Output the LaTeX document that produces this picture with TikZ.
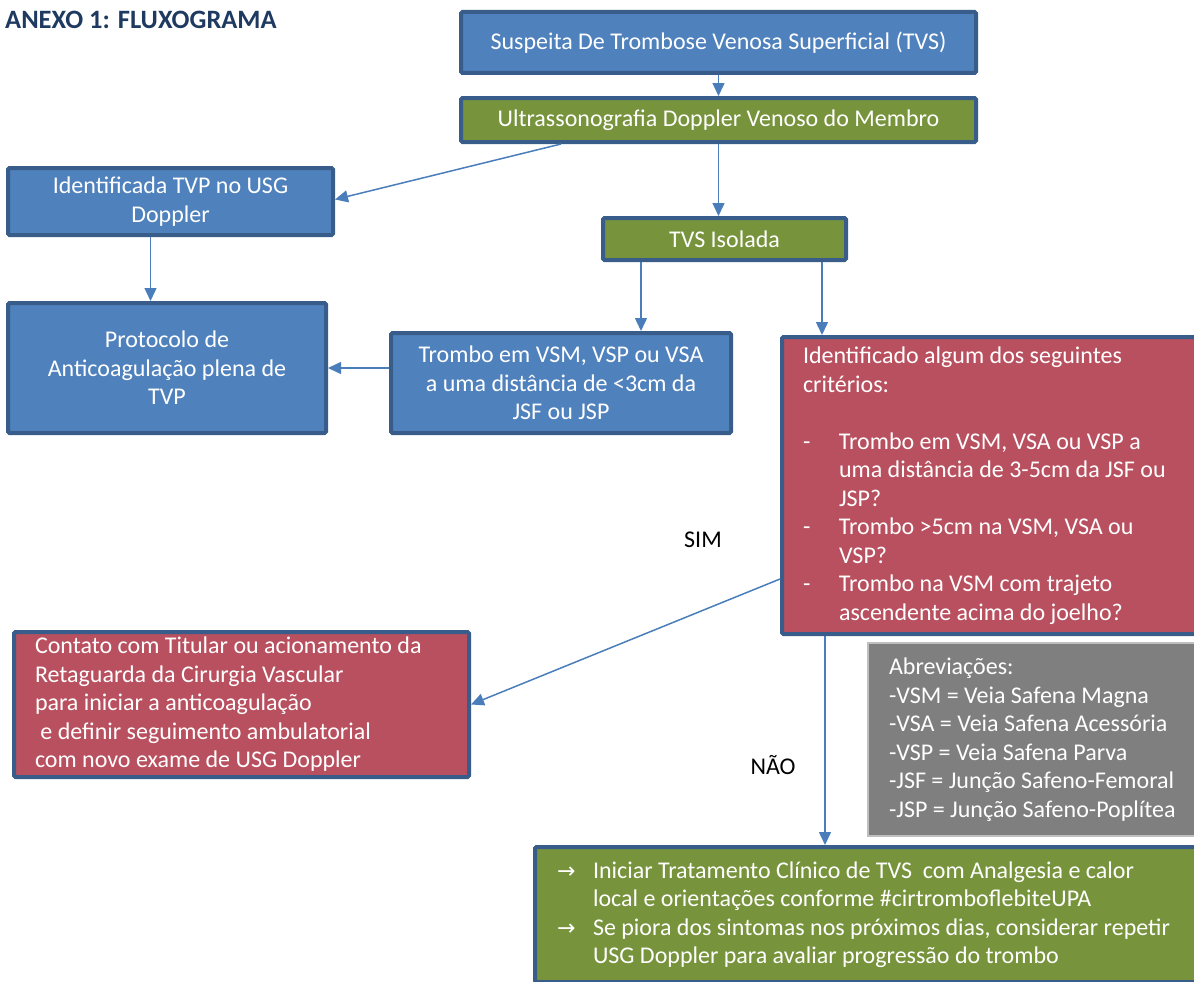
\documentclass[tikz,border=0pt]{standalone}
\usepackage{fontspec}
\setmainfont{Carlito}
\newfontfamily\symfont{DejaVu Sans}
\usepackage{tikz}
\usetikzlibrary{positioning, arrows.meta}

\definecolor{boxblue}{HTML}{4F81BD}
\definecolor{boxgreen}{HTML}{77933C}
\definecolor{boxred}{HTML}{B9505F}
\definecolor{boxgray}{HTML}{7F7F7F}
\definecolor{edgegray}{HTML}{BFBFBF}
\definecolor{boxedge}{HTML}{385D8A}
\definecolor{arrowblue}{HTML}{4A7EBB}
\definecolor{titleblue}{HTML}{1F3A60}

\newcommand{\itm}[2]{\makebox[36pt][l]{#1}#2}
\newcommand{\cnt}[1]{\hspace*{36pt}#1}
\newcommand{\seta}{{\symfont\fontsize{22}{20}\selectfont →}}

\tikzset{
    flowbox/.style={draw=boxedge, line width=4pt, rounded corners=1.5pt, text=white,
        font=\fontsize{24}{28.5}\selectfont, align=center, inner sep=0pt},
    leftbox/.style={flowbox, anchor=north west, align=flush left, inner ysep=0pt},
    arr/.style={draw=arrowblue, line width=1.5pt, -{Triangle[length=13pt,width=12pt]}},
    lbl/.style={font=\fontsize{24}{28.5}\selectfont}
}

\begin{document}
\begin{tikzpicture}[x=1pt,y=-1pt]
    \useasboundingbox (0,0) rectangle (1194,982);
    \node[anchor=west, text=titleblue, font=\bfseries\fontsize{26.5}{28}\selectfont, inner sep=0pt] (title) at (5,20) {ANEXO 1: FLUXOGRAMA};

    % coluna central
    \node[flowbox, fill=boxblue, minimum width=515pt, minimum height=61pt] (susp) at (718.5,42.5) {Suspeita De Trombose Venosa Superficial (TVS)};
    \node[flowbox, fill=boxgreen, minimum width=515pt, minimum height=44pt] (usg) at (718.5,120) {Ultrassonografia Doppler Venoso do Membro};
    \node[flowbox, fill=boxblue, minimum width=325pt, minimum height=67pt] (tvp) at (170.5,201.5) {Identificada TVP no USG\\Doppler};
    \node[flowbox, fill=boxgreen, minimum width=243pt, minimum height=42pt] (isol) at (724.5,239) {TVS Isolada};
    \node[flowbox, fill=boxblue, minimum width=318pt, minimum height=130pt] (prot) at (167,368) {Protocolo de\\Anticoagulação plena de\\TVP};
    \node[flowbox, fill=boxblue, minimum width=340pt, minimum height=100pt] (tromb) at (561,383) {Trombo em VSM, VSP ou VSA\\a uma distância de <3cm da\\JSF ou JSP};

    % criterios
    \node[leftbox, fill=boxred, inner xsep=21pt, text width=376pt, minimum height=297pt] (crit) at (780,335) {Identificado algum dos seguintes\\critérios:\\[28.5pt]
        \itm{-}{Trombo em VSM, VSA ou VSP a}\\\cnt{uma distância de 3-5cm da JSF ou}\\\cnt{JSP?}\\
        \itm{-}{Trombo >5cm na VSM, VSA ou}\\\cnt{VSP?}\\
        \itm{-}{Trombo na VSM com trajeto}\\\cnt{ascendente acima do joelho?}};
    \node[leftbox, fill=boxred, inner xsep=21pt, text width=413pt, minimum height=145pt] (cont) at (12,630) {Contato com Titular ou acionamento da\\Retaguarda da Cirurgia Vascular\\para iniciar a anticoagulação\\\ e definir seguimento ambulatorial\\com novo exame de USG Doppler};
    \node[leftbox, fill=boxgray, draw=edgegray, line width=2pt, rounded corners=0pt, inner xsep=21pt, text width=289pt, minimum height=193pt] (abrev) at (867,642) {Abreviações:\\-VSM = Veia Safena Magna\\-VSA = Veia Safena Acessória\\-VSP = Veia Safena Parva\\-JSF = Junção Safeno-Femoral\\-JSP = Junção Safeno-Poplítea};
    \node[leftbox, fill=boxgreen, inner xsep=22pt, text width=621pt, minimum height=135pt] (trat) at (533,845) {\itm{\seta}{Iniciar Tratamento Clínico de TVS\ \ com Analgesia e calor}\\\cnt{local e orientações conforme \#cirtromboflebiteUPA}\\
        \itm{\seta}{Se piora dos sintomas nos próximos dias, considerar repetir}\\\cnt{USG Doppler para avaliar progressão do trombo}};

    \node[lbl] (sim) at (703,540) {SIM};
    \node[lbl] (nao) at (773,765) {NÃO};

    % setas
    \draw[arr] (susp) -- (usg);
    \draw[arr] (usg.south) -- (usg.south |- isol.north);
    \draw[arr] ([xshift=102pt]usg.south west) -- ([yshift=2pt]tvp.east);
    \draw[arr] ([xshift=-20pt]tvp.south) -- ([xshift=-20pt]tvp.south |- prot.north);
    \draw[arr] ([xshift=40pt]isol.south west) -- ([xshift=40pt]isol.south west |- tromb.north);
    \draw[arr] ([xshift=-26pt]isol.south east) -- ([xshift=-26pt]isol.south east |- crit.north);
    \draw[arr] ([yshift=15pt]tromb.west) -- ([yshift=15pt]tromb.west -| prot.east);
    \draw[arr] ([yshift=57pt]crit.south west) -- (cont.east);
    \draw[arr] ([xshift=45pt]crit.south west) -- ([xshift=45pt]crit.south west |- trat.north);
\end{tikzpicture}
\end{document}
